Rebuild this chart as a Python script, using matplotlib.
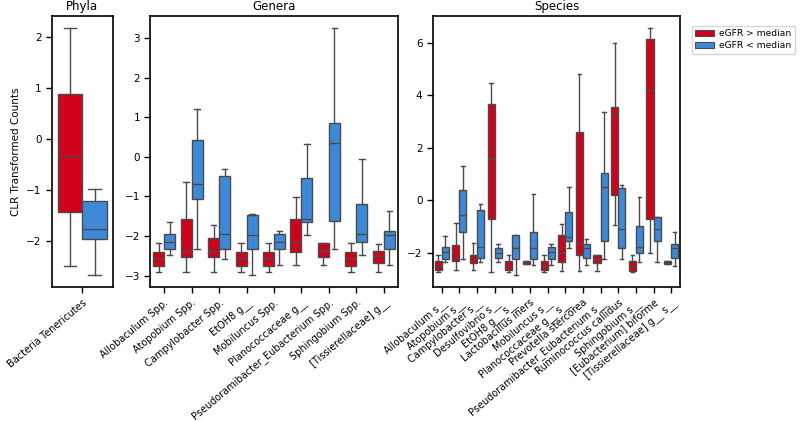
import matplotlib
matplotlib.use("Agg")
import matplotlib.pyplot as plt
from matplotlib.patches import Patch

# ---------------- data: [whislo, q1, median, q3, whishi] ----------------
phyla_cats = ["Bacteria Tenericutes"]
phyla_high = [[-2.50, -1.43, -0.33, 0.88, 2.18]]
phyla_low = [[-2.67, -1.97, -1.77, -1.22, -0.98]]

genera_cats = ["Allobaculum Spp.", "Atopobium Spp.", "Campylobacter Spp.",
               "EtOH8 g__", "Mobiluncus Spp.", "Planococcaceae g__",
               "Pseudoramibacter_Eubacterium Spp.", "Sphingobium Spp.",
               "[Tissierellaceae] g__"]
genera_high = [
    [-2.92, -2.75, -2.56, -2.40, -2.17],
    [-2.92, -2.52, -2.38, -1.57, -0.64],
    [-2.92, -2.52, -2.38, -2.06, -1.73],
    [-2.92, -2.75, -2.56, -2.40, -2.17],
    [-2.92, -2.75, -2.56, -2.40, -2.17],
    [-2.73, -2.40, -2.15, -1.57, -1.02],
    [-2.73, -2.54, -2.38, -2.17, -2.17],
    [-2.92, -2.75, -2.56, -2.40, -2.17],
    [-2.92, -2.67, -2.50, -2.38, -2.21],
]
genera_low = [
    [-2.48, -2.33, -2.14, -1.96, -1.64],
    [-2.33, -1.07, -0.69, 0.43, 1.21],
    [-2.57, -2.32, -1.96, -0.49, -0.30],
    [-2.98, -2.33, -1.98, -1.47, -1.45],
    [-2.73, -2.33, -2.14, -1.96, -1.88],
    [-1.98, -1.65, -1.58, -0.54, 0.33],
    [-2.33, -1.63, 0.35, 0.85, 3.25],
    [-2.48, -2.15, -1.96, -1.18, -0.05],
    [-2.73, -2.33, -1.98, -1.88, -1.36],
]

species_cats = ["Allobaculum s__", "Atopobium s__", "Campylobacter s__",
                "Desulfovibrio s__", "EtOH8 g__ s__", "Lactobacillus iners",
                "Mobiluncus s__", "Planococcaceae g__ s__", "Prevotella stercorea",
                "Pseudoramibacter_Eubacterium s__", "Ruminococcus callidus",
                "Sphingobium s__", "[Eubacterium] biforme", "[Tissierellaceae] g__ s__"]
species_high = [
    [-2.72, -2.66, -2.51, -2.32, -2.07],
    [-2.66, -2.32, -2.19, -1.71, -0.86],
    [-2.66, -2.38, -2.19, -2.08, -1.62],
    [-2.72, -0.70, 1.56, 3.67, 4.46],
    [-2.72, -2.66, -2.48, -2.32, -2.07],
    [-2.42, -2.42, -2.36, -2.29, -2.29],
    [-2.72, -2.66, -2.51, -2.32, -2.07],
    [-2.67, -2.33, -1.99, -1.33, -0.91],
    [-2.67, -2.08, -1.61, 2.61, 4.80],
    [-2.67, -2.40, -2.23, -2.08, -2.08],
    [-0.94, 0.20, 3.31, 3.54, 5.97],
    [-2.74, -2.69, -2.48, -2.31, -2.08],
    [-1.99, -0.71, 4.20, 6.13, 6.54],
    [-2.43, -2.43, -2.37, -2.31, -2.31],
]
species_low = [
    [-2.34, -2.22, -1.98, -1.79, -1.37],
    [-2.22, -1.20, -0.55, 0.41, 1.32],
    [-2.36, -2.20, -1.77, -0.35, -0.14],
    [-2.33, -2.19, -2.00, -1.81, -1.66],
    [-2.83, -2.22, -1.83, -1.31, -1.31],
    [-2.46, -2.22, -1.83, -1.20, 0.24],
    [-2.46, -2.22, -1.98, -1.79, -1.66],
    [-1.83, -1.55, -1.38, -0.43, 0.51],
    [-2.46, -2.20, -1.83, -1.66, -1.47],
    [-2.23, -1.55, 0.49, 1.03, 3.37],
    [-2.23, -1.80, -1.09, 0.48, 0.58],
    [-2.36, -2.02, -1.79, -0.96, 0.11],
    [-2.36, -1.55, -1.09, -0.62, -0.62],
    [-2.48, -2.20, -1.83, -1.66, -1.22],
]

titles = ["Phyla", "Genera", "Species"]
legend_labels = ["eGFR > median", "eGFR < median"]

RED = "#d0021b"
BLUE = "#3d89d8"
LINE = "#4a4a4a"

plt.rcParams["font.family"] = ["DejaVu Sans"]

fig = plt.figure(figsize=(8.0, 4.21), dpi=100)
rects = [
    [0.065, 0.318, 0.076, 0.644],
    [0.188, 0.318, 0.309, 0.644],
    [0.541, 0.318, 0.309, 0.644],
]


def to_stats(rows):
    return [dict(whislo=r[0], q1=r[1], med=r[2], q3=r[3], whishi=r[4], fliers=[])
            for r in rows]


panels = [(phyla_cats, phyla_high, phyla_low),
          (genera_cats, genera_high, genera_low),
          (species_cats, species_high, species_low)]

for i, (rect, (cats, hi, lo), title) in enumerate(zip(rects, panels, titles)):
    ax = fig.add_axes(rect)
    n = len(cats)
    for rows, off, col in ((hi, -0.2, RED), (lo, 0.2, BLUE)):
        pos = [k + off for k in range(n)]
        ax.bxp(to_stats(rows), positions=pos, widths=0.4, patch_artist=True,
               showfliers=False, capwidths=0.2, manage_ticks=False,
               boxprops=dict(facecolor=col, edgecolor=LINE, linewidth=1.0),
               medianprops=dict(color=LINE, linewidth=1.0),
               whiskerprops=dict(color=LINE, linewidth=1.0),
               capprops=dict(color=LINE, linewidth=1.0))
    ax.set_xlim(-0.5, n - 0.5)
    ax.set_xticks(range(n))
    ax.set_xticklabels(cats, rotation=40, ha="right", rotation_mode="anchor",
                       fontsize=7.0)
    ax.tick_params(axis="y", labelsize=7.5)
    ax.tick_params(axis="both", direction="out", length=4, width=1.0)
    ax.set_title(title, fontsize=8.5, pad=4)
    for s in ax.spines.values():
        s.set_linewidth(1.2)
    ax.margins(y=0.05)
    if i == 0:
        ax.set_ylabel("CLR Transformed Counts", fontsize=7.5)

handles = [Patch(facecolor=RED, edgecolor=LINE, linewidth=0.8),
           Patch(facecolor=BLUE, edgecolor=LINE, linewidth=0.8)]
fig.legend(handles, legend_labels, loc="upper left",
           bbox_to_anchor=(0.859, 0.95), fontsize=6.6, frameon=True,
           handlelength=2.0, handletextpad=0.6, borderpad=0.4, labelspacing=0.3)

fig.savefig("out.png", dpi=100)
